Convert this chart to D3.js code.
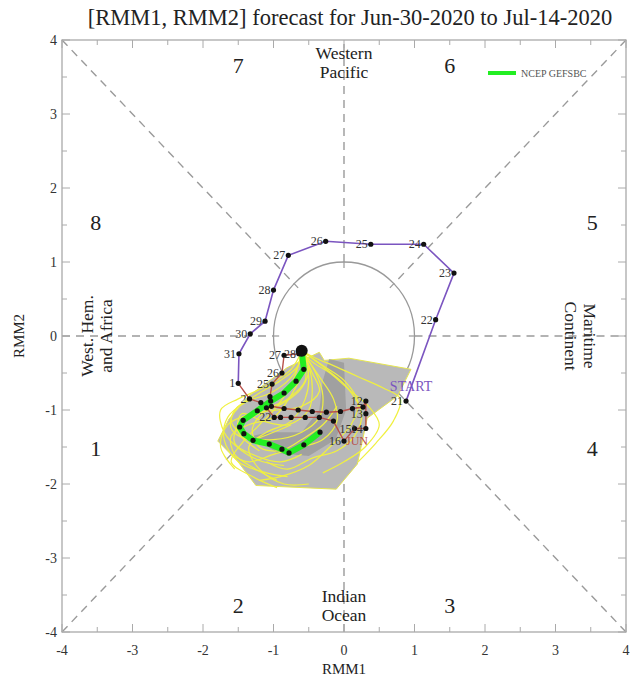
<!DOCTYPE html>
<html>
<head>
<meta charset="utf-8">
<script src="https://cdn.jsdelivr.net/npm/d3@7"></script>
<style>
body { margin: 0; background: #fff; }
text { font-family: "Liberation Serif", "DejaVu Serif", serif; }
</style>
</head>
<body>
<script>
var ticks = [-4, -3, -2, -1, 0, 1, 2, 3, 4];
var minorTicks = [-3.5, -2.5, -1.5, -0.5, 0.5, 1.5, 2.5, 3.5];

// observed path, May (purple)
var mayDays = [21, 22, 23, 24, 25, 26, 27, 28, 29, 30, 31];
var mayPts = [[0.88, -0.88], [1.30, 0.22], [1.56, 0.85], [1.13, 1.24], [0.38, 1.24], [-0.26, 1.28],
    [-0.79, 1.09], [-1.00, 0.62], [-1.12, 0.20], [-1.33, 0.03], [-1.49, -0.24]];

// observed path, June (red)
var junDays = [1, 2, 3, 4, 5, 6, 7, 8, 9, 10, 11, 12, 13, 14, 15, 16, 17, 18, 19, 20, 21, 22, 23, 24, 25, 26, 27, 28, 29];
var junPts = [[-1.50, -0.64], [-1.34, -0.85], [-1.18, -0.90], [-1.03, -0.95], [-0.85, -0.98], [-0.65, -1.00],
    [-0.45, -1.02], [-0.25, -1.03], [-0.05, -1.02], [0.12, -0.98], [0.27, -0.96], [0.31, -0.88],
    [0.31, -1.05], [0.31, -1.25], [0.15, -1.25], [0.00, -1.42], [-0.15, -1.15], [-0.35, -1.10],
    [-0.55, -1.10], [-0.75, -1.10], [-0.90, -1.10], [-0.99, -1.10], [-1.10, -0.97], [-1.05, -0.82],
    [-1.02, -0.65], [-0.88, -0.50], [-0.85, -0.26], [-0.64, -0.24], [-0.60, -0.20]];
var junLabels = [1, 2, 12, 13, 14, 15, 16, 22, 25, 26, 27, 28];

// forecast ensemble mean (NCEP GEFSBC)
var meanPts = [[-0.60, -0.20], [-0.57, -0.45], [-0.68, -0.61], [-0.85, -0.77], [-1.04, -0.88], [-1.23, -1.01],
    [-1.43, -1.14], [-1.48, -1.23], [-1.42, -1.32], [-1.29, -1.41], [-1.06, -1.46], [-0.88, -1.53],
    [-0.78, -1.58], [-0.57, -1.47], [-0.34, -1.30]];

// ensemble spread areas
var spread90 = [[-1.79, -1.42], [-1.63, -1.12], [-1.35, -0.81], [-0.81, -0.43], [-0.35, -0.22], [-0.28, -0.33],
    [0.07, -0.30], [0.95, -0.45], [0.76, -0.81], [0.33, -1.11], [0.19, -1.73], [-0.11, -2.07],
    [-1.25, -2.02], [-1.51, -1.69]];
var spread50 = [[-0.21, -0.31], [0.00, -0.36], [0.03, -1.00], [-0.12, -1.40], [-0.50, -1.62], [-0.95, -1.58],
    [-1.30, -1.35], [-1.05, -1.30], [-0.60, -1.30], [-0.35, -1.00], [-0.30, -0.60]];

// ensemble members
var members = [
    [[-0.6, -0.2], [-0.5, -0.45], [-0.6, -0.7], [-0.85, -0.9], [-1.2, -1.05], [-1.5, -1.2], [-1.55, -1.45], [-1.3, -1.6], [-0.9, -1.7], [-0.6, -1.6]],
    [[-0.6, -0.2], [-0.4, -0.5], [-0.3, -0.8], [-0.35, -1.1], [-0.6, -1.3], [-1.0, -1.4], [-1.4, -1.35], [-1.6, -1.15], [-1.5, -0.95]],
    [[-0.6, -0.2], [-0.7, -0.5], [-1.0, -0.75], [-1.4, -0.9], [-1.65, -1.1], [-1.7, -1.4], [-1.5, -1.7], [-1.1, -1.85], [-0.8, -1.9]],
    [[-0.6, -0.2], [-0.3, -0.4], [0.0, -0.6], [0.2, -0.9], [0.1, -1.2], [-0.2, -1.5], [-0.5, -1.75], [-0.9, -1.9], [-1.2, -1.95]],
    [[-0.6, -0.2], [-0.55, -0.6], [-0.8, -0.85], [-1.1, -1.0], [-1.3, -1.25], [-1.2, -1.5], [-0.9, -1.55], [-0.6, -1.4], [-0.3, -1.2], [-0.1, -0.95]],
    [[-0.6, -0.2], [-0.45, -0.35], [-0.2, -0.5], [0.1, -0.75], [0.35, -0.95], [0.5, -1.2], [0.3, -1.5], [0.0, -1.7], [-0.3, -1.85]],
    [[-0.6, -0.2], [-0.75, -0.45], [-1.15, -0.7], [-1.5, -0.85], [-1.75, -1.0], [-1.7, -1.3], [-1.45, -1.55], [-1.15, -1.7], [-0.85, -1.75]],
    [[-0.6, -0.2], [-0.5, -0.55], [-0.55, -0.85], [-0.75, -1.15], [-1.1, -1.3], [-1.35, -1.5], [-1.2, -1.8], [-0.85, -2.0], [-0.5, -2.0]],
    [[-0.6, -0.2], [-0.35, -0.55], [-0.15, -0.85], [-0.1, -1.15], [-0.3, -1.4], [-0.6, -1.5], [-1.0, -1.6], [-1.35, -1.7], [-1.6, -1.6]],
    [[-0.6, -0.2], [-0.65, -0.4], [-0.9, -0.6], [-1.25, -0.8], [-1.55, -1.0], [-1.6, -1.25], [-1.35, -1.4], [-1.0, -1.3], [-0.75, -1.2]],
    [[-0.6, -0.2], [-0.4, -0.3], [-0.15, -0.4], [0.2, -0.55], [0.55, -0.7], [0.8, -0.85], [0.7, -1.15], [0.45, -1.45], [0.2, -1.7]],
    [[-0.6, -0.2], [-0.6, -0.5], [-0.75, -0.8], [-1.0, -1.1], [-1.35, -1.2], [-1.6, -1.35], [-1.55, -1.6], [-1.25, -1.8], [-0.95, -1.95]],
    [[-0.6, -0.2], [-0.5, -0.4], [-0.45, -0.7], [-0.5, -1.0], [-0.8, -1.2], [-1.15, -1.15], [-1.45, -1.05], [-1.5, -1.3], [-1.2, -1.55]],
    [[-0.6, -0.2], [-0.25, -0.45], [0.05, -0.7], [0.25, -1.05], [0.15, -1.35], [-0.1, -1.55], [-0.45, -1.65], [-0.8, -1.8], [-1.1, -1.7]],
    [[-0.6, -0.2], [-0.7, -0.55], [-0.95, -0.95], [-1.2, -1.2], [-1.45, -1.45], [-1.6, -1.7], [-1.3, -1.9], [-0.95, -2.05]],
    [[-0.6, -0.2], [-0.45, -0.5], [-0.35, -0.75], [-0.6, -0.95], [-0.95, -1.0], [-1.3, -1.05], [-1.65, -1.2], [-1.75, -1.5], [-1.55, -1.8]]
];

var phases = [
    { label: "1", x: -3.52, y: -1.53 }, { label: "2", x: -1.5, y: -3.65 },
    { label: "3", x: 1.5, y: -3.65 }, { label: "4", x: 3.52, y: -1.53 },
    { label: "5", x: 3.52, y: 1.53 }, { label: "6", x: 1.5, y: 3.65 },
    { label: "7", x: -1.5, y: 3.65 }, { label: "8", x: -3.52, y: 1.53 }
];

var w = 638, h = 680;

var svg = d3.select("body").append("svg")
    .attr("width", w)
    .attr("height", h);

var x = d3.scaleLinear().domain([-4, 4]).range([62, 626]);
var y = d3.scaleLinear().domain([-4, 4]).range([632, 40]);

var line = d3.line()
    .x(function(d){ return x(d[0]); })
    .y(function(d){ return y(d[1]); });

var smooth = d3.line()
    .x(function(d){ return x(d[0]); })
    .y(function(d){ return y(d[1]); })
    .curve(d3.curveCatmullRom);

// title
svg.append("text")
    .attr("x", 350)
    .attr("y", 25)
    .attr("text-anchor", "middle")
    .style("font-size", "22.5px")
    .style("fill", "#222")
    .text("[RMM1, RMM2] forecast for Jun-30-2020 to Jul-14-2020");

// dashed phase lines
var r45 = Math.SQRT1_2;
var dashLines = [
    [[-4, 0], [-1, 0]], [[1, 0], [4, 0]], [[0, -4], [0, -1]], [[0, 1], [0, 4]],
    [[-4, 4], [-r45, r45]], [[4, 4], [r45, r45]], [[-4, -4], [-r45, -r45]], [[4, -4], [r45, -r45]]
];
svg.selectAll(".dash")
    .data(dashLines)
    .enter()
    .append("path")
    .attr("class", "dash")
    .attr("d", line)
    .style("fill", "none")
    .style("stroke", "#9a9a9a")
    .style("stroke-width", 1.4)
    .style("stroke-dasharray", "8,6");

// unit circle
svg.append("ellipse")
    .attr("cx", x(0))
    .attr("cy", y(0))
    .attr("rx", x(1) - x(0))
    .attr("ry", y(0) - y(1))
    .style("fill", "none")
    .style("stroke", "#999")
    .style("stroke-width", 1.3);

var angles = d3.range(8).map(function(i){ return i * Math.PI / 4; });
svg.selectAll(".ctick")
    .data(angles)
    .enter()
    .append("path")
    .attr("class", "ctick")
    .attr("d", function(a){
        return line([[Math.cos(a) * 0.92, Math.sin(a) * 0.92], [Math.cos(a), Math.sin(a)]]);
    })
    .style("stroke", "#999")
    .style("stroke-width", 1.2);

// phase numbers and region names
svg.selectAll(".phase")
    .data(phases)
    .enter()
    .append("text")
    .attr("class", "phase")
    .attr("x", function(d){ return x(d.x); })
    .attr("y", function(d){ return y(d.y) + 7; })
    .attr("text-anchor", "middle")
    .style("font-size", "22px")
    .style("fill", "#222")
    .text(function(d){ return d.label; });

function region(lines, px, py, rot) {
    var t = svg.append("text")
        .attr("text-anchor", "middle")
        .attr("transform", "translate(" + px + "," + py + ") rotate(" + rot + ")")
        .style("font-size", "17.5px")
        .style("fill", "#222");
    lines.forEach(function(s, i){
        t.append("tspan").attr("x", 0).attr("dy", i === 0 ? 0 : 19).text(s);
    });
}
region(["Western", "Pacific"], x(0), 59, 0);
region(["Indian", "Ocean"], x(0), 602, 0);
region(["West. Hem.", "and Africa"], 93, y(0), -90);
region(["Maritime", "Continent"], 584, y(0), 90);

// ensemble spread
svg.append("path")
    .attr("d", line(spread90) + "Z")
    .style("fill", "#b9b9b9")
    .style("stroke", "#e6e650")
    .style("stroke-width", 1);
svg.append("path")
    .attr("d", line(spread50) + "Z")
    .style("fill", "#9a9a9a")
    .style("opacity", 0.8);

// ensemble members
svg.selectAll(".member")
    .data(members)
    .enter()
    .append("path")
    .attr("class", "member")
    .attr("d", smooth)
    .style("fill", "none")
    .style("stroke", "#f0f040")
    .style("stroke-width", 1.2);

// observed paths
svg.append("path")
    .attr("d", line(mayPts.concat([junPts[0]])))
    .style("fill", "none")
    .style("stroke", "#7b55c0")
    .style("stroke-width", 1.6);
svg.append("path")
    .attr("d", line(junPts))
    .style("fill", "none")
    .style("stroke", "#b8504a")
    .style("stroke-width", 1.4);

// ensemble mean
svg.append("path")
    .attr("d", line(meanPts))
    .style("fill", "none")
    .style("stroke", "#22ee22")
    .style("stroke-width", 6)
    .style("stroke-linejoin", "round");

// dots
var dots = mayPts.concat(junPts).concat(meanPts.slice(1));
svg.selectAll(".dot")
    .data(dots)
    .enter()
    .append("circle")
    .attr("class", "dot")
    .attr("cx", function(d){ return x(d[0]); })
    .attr("cy", function(d){ return y(d[1]); })
    .attr("r", 2.6)
    .style("fill", "#111");

svg.append("circle")
    .attr("cx", x(meanPts[0][0]))
    .attr("cy", y(meanPts[0][1]))
    .attr("r", 6)
    .style("fill", "#111");

// day labels
svg.selectAll(".mayLab")
    .data(mayPts)
    .enter()
    .append("text")
    .attr("class", "mayLab")
    .attr("x", function(d){ return x(d[0]) - 3; })
    .attr("y", function(d){ return y(d[1]) + 4; })
    .attr("text-anchor", "end")
    .style("font-size", "12px")
    .style("fill", "#333")
    .text(function(d, i){ return mayDays[i]; });

svg.selectAll(".junLab")
    .data(junLabels)
    .enter()
    .append("text")
    .attr("class", "junLab")
    .attr("x", function(d){ return x(junPts[d - 1][0]) - 3; })
    .attr("y", function(d){ return y(junPts[d - 1][1]) + 4; })
    .attr("text-anchor", "end")
    .style("font-size", "12px")
    .style("fill", "#333")
    .text(function(d){ return d; });

svg.append("text")
    .attr("x", x(mayPts[0][0]) + 5)
    .attr("y", y(mayPts[0][1]) - 10)
    .attr("text-anchor", "middle")
    .style("font-size", "14px")
    .style("fill", "#7b55c0")
    .text("START");

svg.append("text")
    .attr("x", x(junPts[15][0]) + 2)
    .attr("y", y(junPts[15][1]) + 4)
    .style("font-size", "12px")
    .style("fill", "#b8504a")
    .text("JUN");

// frame and axes
svg.append("rect")
    .attr("x", x(-4))
    .attr("y", y(4))
    .attr("width", x(4) - x(-4))
    .attr("height", y(-4) - y(4))
    .style("fill", "none")
    .style("stroke", "#aaa")
    .style("stroke-width", 1.3);

var tickG = svg.append("g").style("stroke", "#aaa").style("stroke-width", 1);
ticks.concat(minorTicks).forEach(function(t){
    var len = ticks.indexOf(t) >= 0 ? 8 : 5;
    tickG.append("line").attr("x1", x(t)).attr("x2", x(t)).attr("y1", y(-4)).attr("y2", y(-4) - len);
    tickG.append("line").attr("x1", x(t)).attr("x2", x(t)).attr("y1", y(4)).attr("y2", y(4) + len);
    tickG.append("line").attr("y1", y(t)).attr("y2", y(t)).attr("x1", x(-4)).attr("x2", x(-4) + len);
    tickG.append("line").attr("y1", y(t)).attr("y2", y(t)).attr("x1", x(4)).attr("x2", x(4) - len);
});

svg.selectAll(".xlab")
    .data(ticks)
    .enter()
    .append("text")
    .attr("class", "xlab")
    .attr("x", function(d){ return x(d); })
    .attr("y", 655)
    .attr("text-anchor", "middle")
    .style("font-size", "14px")
    .style("fill", "#333")
    .text(function(d){ return d; });

svg.selectAll(".ylab")
    .data(ticks)
    .enter()
    .append("text")
    .attr("class", "ylab")
    .attr("x", 57)
    .attr("y", function(d){ return y(d) + 5; })
    .attr("text-anchor", "end")
    .style("font-size", "14px")
    .style("fill", "#333")
    .text(function(d){ return d; });

svg.append("text")
    .attr("x", x(0))
    .attr("y", 674)
    .attr("text-anchor", "middle")
    .style("font-size", "15px")
    .style("fill", "#222")
    .text("RMM1");

svg.append("text")
    .attr("transform", "translate(24," + y(0) + ") rotate(-90)")
    .attr("text-anchor", "middle")
    .style("font-size", "15px")
    .style("fill", "#222")
    .text("RMM2");

// legend
svg.append("line")
    .attr("x1", 488).attr("x2", 516)
    .attr("y1", 73).attr("y2", 73)
    .style("stroke", "#22ee22")
    .style("stroke-width", 4);
svg.append("text")
    .attr("x", 521)
    .attr("y", 77)
    .style("font-size", "10px")
    .style("fill", "#555")
    .text("NCEP GEFSBC");
</script>
</body>
</html>
